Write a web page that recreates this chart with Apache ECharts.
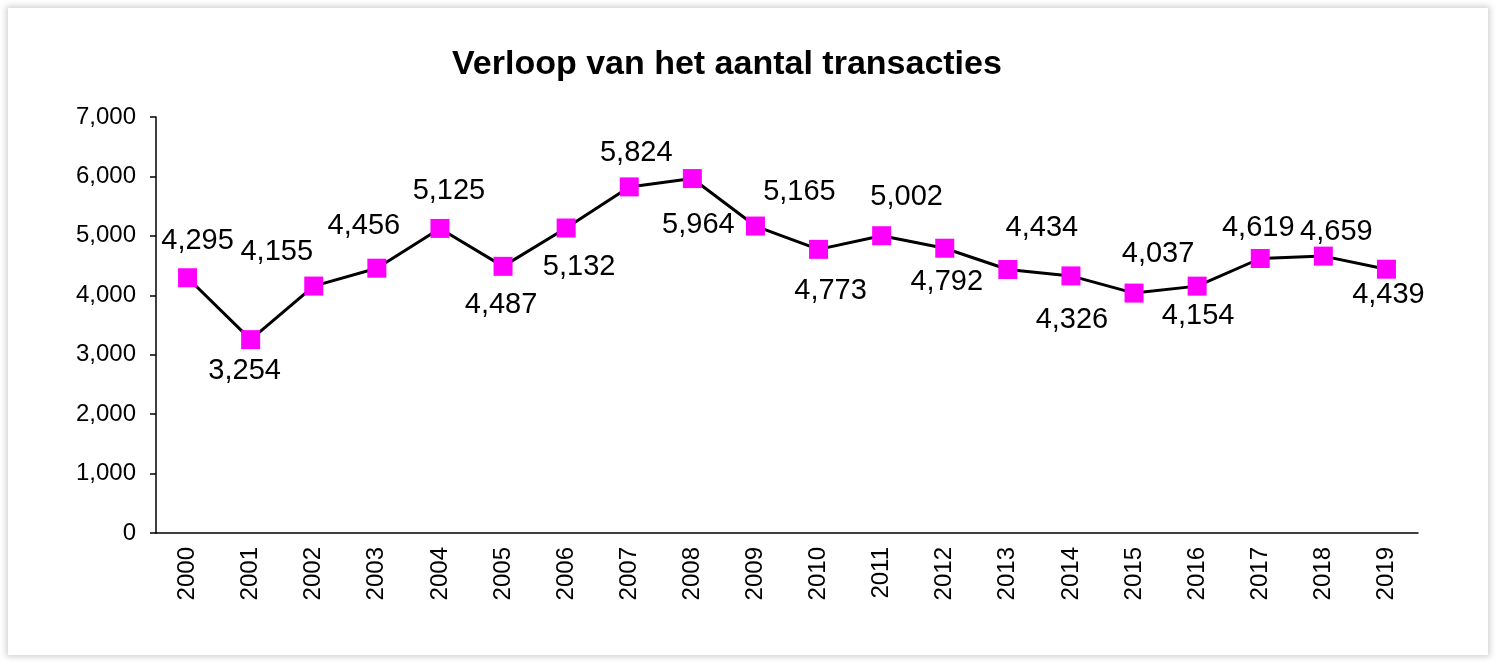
<!DOCTYPE html>
<html>
<head>
<meta charset="utf-8">
<title>Verloop van het aantal transacties</title>
<script src="https://cdn.jsdelivr.net/npm/echarts@6/dist/echarts.min.js"></script>
<style>
  html, body { margin: 0; padding: 0; background: #fff; }
  #frame {
    position: absolute; left: 8px; top: 8px; width: 1480px; height: 647px;
    background: #fff; box-shadow: 0 0 6px 2px rgba(0, 0, 0, 0.18);
  }
  #chart { position: absolute; left: 0; top: 0; width: 1497px; height: 664px; }
</style>
</head>
<body>
<div id="frame"></div>
<div id="chart"></div>
<script>
const years = ['2000', '2001', '2002', '2003', '2004', '2005', '2006', '2007', '2008', '2009',
  '2010', '2011', '2012', '2013', '2014', '2015', '2016', '2017', '2018', '2019']
const transacties = [4295, 3254, 4155, 4456, 5125, 4487, 5132, 5824, 5964, 5165,
  4773, 5002, 4792, 4434, 4326, 4037, 4154, 4619, 4659, 4439]

// where each value label sits relative to its marker, [dx, dy] in px
const labelOffsets = [
  [10, -37], [-6, 31], [-37, -34], [-13, -42], [9, -37], [-2, 39], [13, 39], [7, -34], [6, 46], [44, -34],
  [12, 42], [25, -39], [2, 34], [34, -41], [1, 44], [24, -39], [1, 30], [-2, -30], [13, -24], [2, 26]
]

const font = 'Liberation Sans, Arial, sans-serif'
const fmt = v => v.toLocaleString('en-US')

var chart = echarts.init(document.getElementById('chart'))
chart.setOption({
  animation: false,
  title: {
    text: 'Verloop van het aantal transacties',
    left: 447,
    top: 43,
    textStyle: { fontFamily: font, fontSize: 34, fontWeight: 'bold', color: '#000' }
  },
  grid: { left: 156, right: 79, top: 117, bottom: 131 },
  xAxis: {
    type: 'category',
    data: years,
    axisLine: { lineStyle: { color: '#000', width: 1.5 } },
    axisTick: { length: 8, lineStyle: { color: '#000', width: 1.5 } },
    axisLabel: { rotate: 90, margin: 14, color: '#000', fontFamily: font, fontSize: 24 }
  },
  yAxis: {
    type: 'value',
    min: 0,
    max: 7000,
    interval: 1000,
    splitLine: { show: false },
    axisLine: { show: true, lineStyle: { color: '#000', width: 1.5 } },
    axisTick: { show: true, length: 6, lineStyle: { color: '#000', width: 1.5 } },
    axisLabel: { margin: 20, color: '#000', fontFamily: font, fontSize: 24, formatter: fmt }
  },
  series: [
    {
      type: 'line',
      data: transacties.map((v, i) => ({
        value: v,
        label: { offset: labelOffsets[i] }
      })),
      symbol: 'rect',
      symbolSize: 19,
      showAllSymbol: true,
      lineStyle: { color: '#000', width: 3 },
      itemStyle: { color: '#ff00ff', borderWidth: 0 },
      label: {
        show: true,
        position: 'inside',
        align: 'center',
        verticalAlign: 'middle',
        color: '#000',
        fontFamily: font,
        fontSize: 29,
        formatter: p => fmt(p.value)
      }
    }
  ]
})
</script>
</body>
</html>
